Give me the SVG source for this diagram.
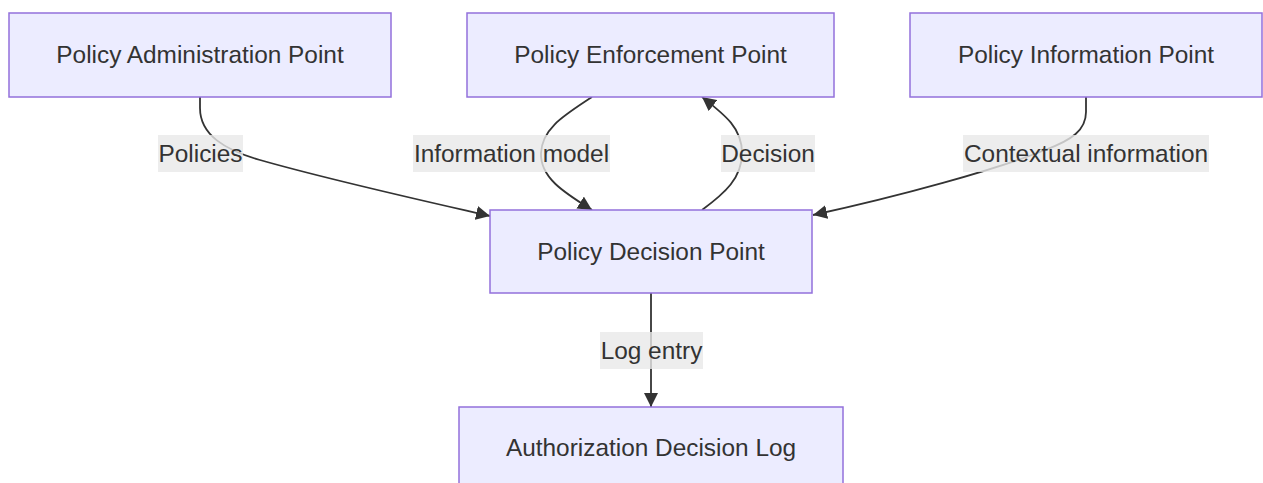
<svg xmlns="http://www.w3.org/2000/svg" width="1263" height="483" viewBox="0 0 1263 483">
<style>
.node rect{fill:#ECECFF;stroke:#9370DB;stroke-width:1.5}
text{font-family:"Liberation Sans",Arial,sans-serif;font-size:24.4px;fill:#333;text-anchor:middle;dominant-baseline:central}
.edge{fill:none;stroke:#333;stroke-width:1.8}
.lbl rect{fill:#e8e8e8;fill-opacity:0.8}
</style>
<defs>
<marker id="arr" viewBox="0 0 10 10" refX="10" refY="5" markerUnits="userSpaceOnUse" markerWidth="14" markerHeight="14" orient="auto">
<path d="M0,0 L10,5 L0,10 z" fill="#333"/>
</marker>
</defs>
<rect width="1263" height="483" fill="#fff"/>
<g id="connectors">
<path class="edge" d="M200,97 L200,108 C200,135 225,150 260,160 C330,180 420,200 490,216" marker-end="url(#arr)"/>
<path class="edge" d="M592,97 C565,115 542,128 541,153 C540,178 565,193 592,210" marker-end="url(#arr)"/>
<path class="edge" d="M702,210 C725,193 742,178 742,153 C742,128 725,115 702,97" marker-end="url(#arr)"/>
<path class="edge" d="M1086,97 L1086,112 C1086,130 1072,140 1045,150 C995,170 900,196 813,215" marker-end="url(#arr)"/>
<path class="edge" d="M651,293 L651,407" marker-end="url(#arr)"/>
</g>
<g id="edge-labels">
<g class="lbl"><rect x="158" y="135" width="85" height="37"/><text x="200.5" y="153">Policies</text></g>
<g class="lbl"><rect x="413" y="135" width="197" height="37"/><text x="511.5" y="153">Information model</text></g>
<g class="lbl"><rect x="721" y="135" width="94" height="37"/><text x="768" y="153">Decision</text></g>
<g class="lbl"><rect x="963" y="135" width="246" height="37"/><text x="1086" y="153">Contextual information</text></g>
<g class="lbl"><rect x="600" y="332" width="103" height="37"/><text x="651.5" y="350">Log entry</text></g>
</g>
<g id="PAP" class="node"><rect x="9" y="13" width="382" height="84"/><text x="200" y="54.5">Policy Administration Point</text></g>
<g id="PEP" class="node"><rect x="467" y="13" width="367" height="84"/><text x="650.5" y="54.5">Policy Enforcement Point</text></g>
<g id="PIP" class="node"><rect x="910" y="13" width="352" height="84"/><text x="1086" y="54.5">Policy Information Point</text></g>
<g id="PDP" class="node"><rect x="490" y="210" width="322" height="83"/><text x="651" y="251">Policy Decision Point</text></g>
<g id="ADL" class="node"><rect x="459" y="407" width="384" height="84"/><text x="651" y="447.5">Authorization Decision Log</text></g>
</svg>
